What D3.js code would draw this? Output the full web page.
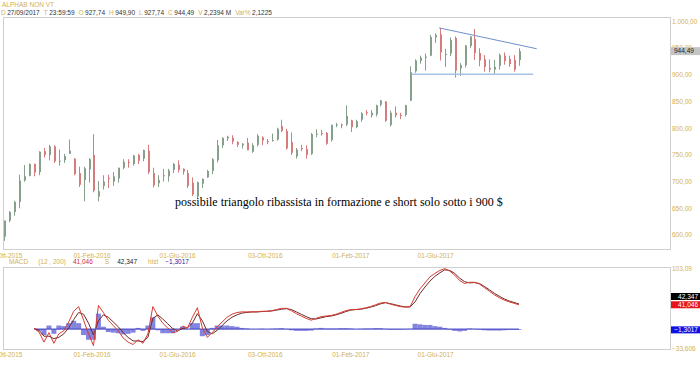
<!DOCTYPE html>
<html>
<head>
<meta charset="utf-8">
<script src="https://cdn.jsdelivr.net/npm/d3@7"></script>
<style>
  body { margin: 0; background: #fff; }
  svg { display: block; }
  text { font-family: "Liberation Sans", Arial, sans-serif; }
</style>
</head>
<body>
<svg id="chart" width="700" height="365"></svg>
<script>
// weekly candles, first week starts on monday 28/09/2015
const firstMonday = new Date(2015, 8, 28);
const lastDay = new Date(2017, 8, 28);

const opens = [
  597, 627, 643, 662, 702, 711, 733, 718, 757, 750,
  766, 738, 740, 752, 743, 716, 703, 723, 750, 672,
  692, 707, 700, 706, 726, 737, 733, 750, 743, 758,
  716, 697, 712, 710, 722, 732, 724, 716, 698, 672,
  696, 708, 720, 740, 768, 781, 782, 774, 768, 773,
  756, 769, 783, 776, 777, 779, 804, 795, 774, 747,
  763, 761, 752, 789, 791, 791, 778, 807, 807, 807,
  815, 802, 816, 830, 824, 826, 844, 850, 806, 829,
  825, 825, 852, 907, 926, 932, 936, 970, 976, 939,
  940, 969, 912, 918, 954, 967, 941, 929, 913, 910,
  917, 936, 930, 928, 927.74
];
const highs = [
  627, 645, 664, 713, 731, 734, 734, 757, 763, 769,
  768, 760, 752, 779, 744, 728, 728, 744, 789, 701,
  712, 713, 718, 726, 742, 742, 750, 752, 760, 769,
  726, 712, 724, 724, 735, 740, 725, 722, 708, 700,
  706, 722, 744, 778, 783, 786, 787, 776, 772, 782,
  772, 789, 785, 780, 790, 801, 816, 799, 792, 763,
  769, 768, 791, 798, 797, 793, 807, 810, 809, 843,
  816, 816, 830, 834, 834, 844, 853, 851, 833, 841,
  829, 844, 916, 929, 936, 940, 975, 978, 988, 949,
  970, 972, 922, 956, 972, 986, 950, 937, 929, 928,
  940, 942, 936, 937, 949.9
];
const lows = [
  589, 624, 636, 650, 700, 710, 710, 712, 745, 740,
  735, 730, 735, 756, 712, 690, 663, 698, 680, 663,
  685, 688, 692, 698, 723, 726, 730, 733, 738, 714,
  689, 690, 700, 700, 716, 717, 713, 688, 673, 668,
  688, 707, 714, 736, 763, 776, 770, 765, 762, 759,
  754, 766, 768, 770, 775, 777, 793, 760, 750, 743,
  757, 743, 750, 783, 786, 769, 775, 802, 800, 804,
  793, 800, 812, 824, 820, 822, 841, 812, 803, 820,
  817, 822, 851, 904, 921, 908, 935, 960, 927, 915,
  935, 895, 898, 914, 950, 928, 916, 906, 905, 902,
  910, 919, 915, 906, 917
];
const closes = [
  627, 643, 662, 702, 710, 733, 717, 756, 750, 766,
  738, 739, 748, 758, 714, 694, 725, 742, 683, 682,
  700, 705, 710, 726, 737, 735, 749, 739, 759, 718,
  693, 703, 710, 721, 733, 722, 719, 692, 676, 699,
  705, 720, 742, 768, 782, 784, 775, 769, 771, 759,
  768, 786, 777, 775, 778, 799, 795, 762, 754, 760,
  761, 750, 789, 790, 789, 771, 806, 807, 805, 823,
  802, 813, 828, 828, 829, 843, 852, 814, 829, 824,
  823, 843, 905, 927, 932, 934, 971, 975, 942, 939,
  965, 908, 918, 955, 972, 941, 927, 915, 910, 915,
  937, 926, 920, 910, 944.49
];

// MACD (12, 200) and signal, weekly, starting at week 6
const macdStartWeek = 6;
const macdValues = [
  1, -5, -22, -6, -24, -8, -3, 12, 30, 38,
  15, -8, -28, 40, 28, 15, 6, -3, -15, -22,
  -26, -18, -24, -8, 38, 22, 10, 2, -6, -4,
  5, 2, 20, 36, 2, -14, -6, 4, 12, 20,
  25, 28, 29, 29, 29, 29, 30, 30, 31, 33,
  35, 35, 31, 26, 22, 18, 15, 18, 21, 22,
  23, 25, 28, 31, 33, 33, 34, 36, 38, 41,
  44, 45, 42, 40, 38, 37, 38, 55, 68, 78,
  88, 94, 99, 102, 98, 91, 82, 77, 79, 79,
  76, 70, 64, 58, 53, 49, 46, 43.5, 41.046
];
const signalValues = [
  1, -2, -12, -12, -16, -14, -8, 2, 16, 28,
  25, 10, -10, 14, 24, 20, 12, 4, -6, -14,
  -20, -20, -21, -14, 18, 24, 17, 9, 1, -3,
  1, 2, 10, 26, 14, -4, -8, -2, 6, 14,
  20, 24, 27, 28, 29, 29, 29.5, 30, 30.5, 32,
  33.5, 34.5, 33, 29, 25, 21, 17.5, 17, 19, 21,
  22, 24, 26.5, 29.5, 32, 33, 33.5, 35, 37, 39.5,
  42.5, 44.5, 43, 41, 39, 37.5, 37.5, 46, 60, 71,
  81, 89, 95, 100, 99, 94, 86, 80, 78, 78.5,
  77, 72, 66.5, 60.5, 55.5, 51, 47.5, 45, 42.347
];
const histLast = -1.3017;
const macdTop = 103.09;
const macdBottom = -33.606;

const tickDates = ['2015-10-01', '2016-02-01', '2016-06-01', '2016-10-03', '2017-02-01', '2017-06-01'];
const tickLabels = ['01-Ott-2015', '01-Feb-2016', '01-Giu-2016', '03-Ott-2016', '01-Feb-2017', '01-Giu-2017'];
const priceTicks = [600, 650, 700, 750, 800, 850, 900, 950, 1000];
const lastPrice = 944.49;

const upperTrend = [['2017-06-06', 988], ['2017-10-22', 949]];
const lowerTrend = [['2017-04-28', 901], ['2017-10-17', 901]];

const title = 'ALPHAB NON VT';
const headerKeys = ['D', 'T', 'O', 'H', 'L', 'C', 'V', 'Var%'];
const headerVals = ['27/09/2017', '23:59:59', '927,74', '949,90', '927,74', '944,49', '2,2394 M', '2,1225'];
const note = 'possibile triangolo ribassista in formazione e short solo sotto i 900 $';

const gold = '#d2b155';
const upColor = '#86a08b';
const downColor = '#d77c7c';

const svg = d3.select('#chart');
const parse = d3.timeParse('%Y-%m-%d');
const it = d3.formatLocale({ decimal: ',', thousands: '.', grouping: [3], currency: ['', ''] });
const fmtPrice = it.format(',.2f');
const fmt3 = it.format('.3f');
const fmt4 = it.format('.4f');

const weeks = d3.timeMonday.range(firstMonday, lastDay);
const mid = (d) => d3.timeDay.offset(d, 2);

const x = d3.scaleTime()
  .domain([firstMonday, new Date(2017, 8, 27)])
  .range([3, 519]);

const yP = d3.scaleLinear().domain([600, 1000]).range([235, 21.5]);
const yM = d3.scaleLinear().domain([macdBottom, macdTop]).range([349, 268]);

// header
svg.append('text').attr('x', 2).attr('y', 7)
  .attr('font-size', 6.5).attr('fill', gold).text(title);
const hdr = svg.append('text').attr('x', 1).attr('y', 15).attr('font-size', 6.5);
headerKeys.forEach((k, i) => {
  hdr.append('tspan').attr('fill', gold).attr('dx', i ? 4 : 0).text(k);
  hdr.append('tspan').attr('fill', '#333').attr('dx', 1.5).text(headerVals[i]);
});

// panel frames
const frame = (y0, y1) => svg.append('rect')
  .attr('x', 3.5).attr('y', y0 + 0.5)
  .attr('width', 667).attr('height', y1 - y0)
  .attr('fill', 'none').attr('stroke', '#cfcfcf');
frame(17, 249);
frame(267, 349);

// price axis (950 ends up under the last price box, as in the original)
const priceAxis = svg.append('g');
priceAxis.selectAll('text')
  .data(priceTicks)
  .join('text')
  .attr('x', 672)
  .attr('y', (d) => yP(d))
  .attr('dy', '0.35em')
  .attr('font-size', 6.5)
  .attr('fill', gold)
  .text((d) => fmtPrice(d));

// last price box
svg.append('rect').attr('x', 671).attr('y', yP(lastPrice) - 4)
  .attr('width', 29).attr('height', 8).attr('fill', '#c4c4c4');
svg.append('text').attr('x', 674).attr('y', yP(lastPrice)).attr('dy', '0.35em')
  .attr('font-size', 6.5).attr('fill', '#222').text(fmtPrice(lastPrice));

// date labels under both panels
[256, 355].forEach((ty) => {
  svg.append('g').selectAll('text')
    .data(tickDates)
    .join('text')
    .attr('x', (d) => x(parse(d)))
    .attr('y', ty)
    .attr('dy', '0.35em')
    .attr('text-anchor', 'middle')
    .attr('font-size', 6.5)
    .attr('fill', gold)
    .text((d, i) => tickLabels[i]);
});

// candles
const candles = weeks.map((w, i) => ({
  date: mid(w), o: opens[i], h: highs[i], l: lows[i], c: closes[i],
}));
const cg = svg.append('g');
cg.selectAll('line')
  .data(candles)
  .join('line')
  .attr('x1', (d) => Math.round(x(d.date)) + 0.5)
  .attr('x2', (d) => Math.round(x(d.date)) + 0.5)
  .attr('y1', (d) => yP(d.h))
  .attr('y2', (d) => yP(d.l))
  .attr('stroke', (d) => (d.c >= d.o ? upColor : downColor))
  .attr('stroke-width', 1);
cg.selectAll('rect')
  .data(candles)
  .join('rect')
  .attr('x', (d) => Math.round(x(d.date)))
  .attr('width', 2)
  .attr('y', (d) => yP(Math.max(d.o, d.c)))
  .attr('height', (d) => Math.max(1, Math.abs(yP(d.o) - yP(d.c))))
  .attr('fill', (d) => (d.c >= d.o ? upColor : downColor));

// trend lines
const trend = (pts, color, w) => svg.append('line')
  .attr('x1', x(parse(pts[0][0]))).attr('y1', yP(pts[0][1]))
  .attr('x2', x(parse(pts[1][0]))).attr('y2', yP(pts[1][1]))
  .attr('stroke', color).attr('stroke-width', w);
trend(upperTrend, '#6f8fc9', 1);
trend(lowerTrend, '#a6c1e6', 1.5);

// annotation
svg.append('text').attr('x', 175).attr('y', 206)
  .style('font-family', '"Liberation Serif", "Times New Roman", serif')
  .attr('font-size', 12).attr('fill', '#000').text(note);

// MACD header
const macdHdr = svg.append('text').attr('x', 9).attr('y', 264).attr('font-size', 6.5);
const last = macdValues.length - 1;
[
  ['MACD', gold, 0], ['(12 , 200)', gold, 10], [fmt3(macdValues[last]), '#d03030', 7],
  ['S', gold, 12], [fmt3(signalValues[last]), '#222', 8], ['hist', gold, 11],
  [fmt4(histLast), '#2424a8', 7],
].forEach(([t, col, dx]) => {
  macdHdr.append('tspan').attr('fill', col).attr('dx', dx).text(t);
});

// MACD series
const macd = macdValues.map((v, i) => ({
  date: mid(weeks[i + macdStartWeek]), m: v, s: signalValues[i],
}));
const mg = svg.append('g');
mg.selectAll('rect')
  .data(macd)
  .join('rect')
  .attr('x', (d) => x(d.date) - 2.5)
  .attr('width', 5)
  .attr('y', (d) => yM(Math.max(0, d.m - d.s)))
  .attr('height', (d) => Math.abs(yM(d.m - d.s) - yM(0)))
  .attr('fill', '#6464d8')
  .attr('fill-opacity', 0.8);
mg.append('line')
  .attr('x1', x(macd[0].date)).attr('x2', x(macd[last].date))
  .attr('y1', yM(0)).attr('y2', yM(0))
  .attr('stroke', '#3c3cc0').attr('stroke-width', 1);
mg.append('path')
  .datum(macd)
  .attr('fill', 'none').attr('stroke', '#6a2c2c').attr('stroke-width', 1)
  .attr('d', d3.line().x((d) => x(d.date)).y((d) => yM(d.s)));
mg.append('path')
  .datum(macd)
  .attr('fill', 'none').attr('stroke', '#d93a30').attr('stroke-width', 1)
  .attr('d', d3.line().x((d) => x(d.date)).y((d) => yM(d.m)));

// MACD axis
const macdAxis = svg.append('g');
macdAxis.append('text').attr('x', 672).attr('y', 269).attr('dy', '0.35em')
  .attr('font-size', 6.5).attr('fill', gold).text(it.format('.2f')(macdTop));
macdAxis.append('text').attr('x', 672).attr('y', 349).attr('dy', '0.35em')
  .attr('font-size', 6.5).attr('fill', gold).text(fmt3(macdBottom));

const boxes = [
  { y: yM(signalValues[last]) - 7.5, fill: '#000', t: fmt3(signalValues[last]) },
  { y: yM(macdValues[last]), fill: '#e8141c', t: fmt3(macdValues[last]) },
  { y: yM(histLast), fill: '#1010e0', t: fmt4(histLast) },
];
boxes.forEach((b) => {
  macdAxis.append('rect').attr('x', 671).attr('y', b.y - 3.5)
    .attr('width', 29).attr('height', 7).attr('fill', b.fill);
  macdAxis.append('text').attr('x', 698).attr('y', b.y).attr('dy', '0.35em')
    .attr('text-anchor', 'end').attr('font-size', 6.5).attr('fill', '#fff').text(b.t);
});
</script>
</body>
</html>
